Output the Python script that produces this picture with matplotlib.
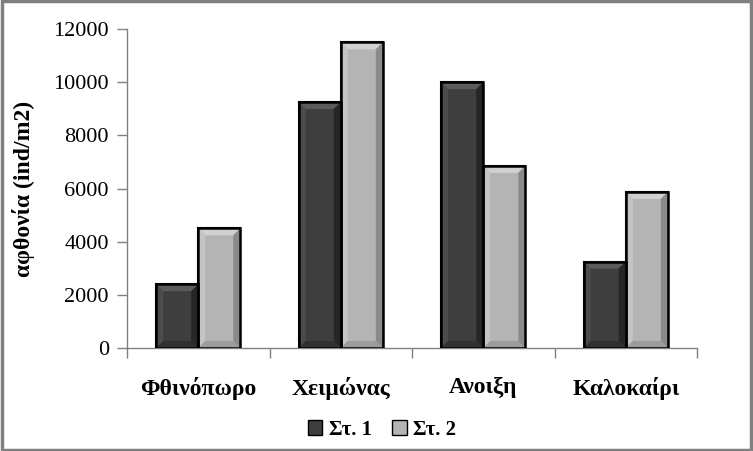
import matplotlib
matplotlib.use("Agg")
import matplotlib.pyplot as plt
import numpy as np
from matplotlib.patches import Polygon, Rectangle, Patch

categories = ["Φθινόπωρο", "Χειμώνας", "Ανοιξη", "Καλοκαίρι"]
series_names = ["Στ. 1", "Στ. 2"]
st1 = [2400, 9250, 10000, 3250]
st2 = [4500, 11500, 6850, 5870]
yticks = [0, 2000, 4000, 6000, 8000, 10000, 12000]

plt.rcParams['font.family'] = ['Liberation Serif', 'DejaVu Serif']

fig = plt.figure(figsize=(7.53, 4.51), dpi=100)
ax = fig.add_axes([127/753, 103/451, 570/753, 319/451])

x = np.arange(len(categories))
w = 0.295
styles = [
    dict(body="#3e3e3e", top="#5c5c5c", left="#4c4c4c", right="#262626", bot="#303030"),
    dict(body="#b4b4b4", top="#d0d0d0", left="#c4c4c4", right="#8a8a8a", bot="#9c9c9c"),
]
ax.set_xlim(-0.5, len(categories) - 0.5)
ax.set_ylim(0, 12000)

p0 = ax.transData.transform((0, 0))
p1 = ax.transData.transform((1, 1000))
pxx = p1[0] - p0[0]
pxy = (p1[1] - p0[1]) / 1000
bx = 7 / pxx
by = 7 / pxy

for i, (vals, st) in enumerate(zip([st1, st2], styles)):
    xs = x + (i - 0.5) * w
    bars = ax.bar(xs, vals, width=w, color=st["body"], edgecolor="black", linewidth=1.5, zorder=2)
    for b in bars:
        x0, y0 = b.get_x(), b.get_y()
        x1, y1 = x0 + b.get_width(), y0 + b.get_height()
        polys = [
            ([(x0, y1), (x1, y1), (x1 - bx, y1 - by), (x0 + bx, y1 - by)], st["top"]),
            ([(x0, y0), (x0 + bx, y0 + by), (x0 + bx, y1 - by), (x0, y1)], st["left"]),
            ([(x1, y0), (x1, y1), (x1 - bx, y1 - by), (x1 - bx, y0 + by)], st["right"]),
            ([(x0, y0), (x1, y0), (x1 - bx, y0 + by), (x0 + bx, y0 + by)], st["bot"]),
        ]
        for pts, c in polys:
            ax.add_patch(Polygon(pts, closed=True, facecolor=c, edgecolor="none", zorder=2.5))
        ax.add_patch(Rectangle((x0, y0), x1 - x0, y1 - y0, facecolor="none",
                               edgecolor="black", linewidth=1.8, zorder=3))

ax.set_yticks(yticks)
ax.set_yticklabels([str(v) for v in yticks], fontsize=16)
ax.set_xticks(x)
ax.set_xticklabels(categories, fontsize=17, fontweight="bold")
ax.set_xticks(np.arange(-0.5, len(categories)), minor=True)
ax.tick_params(axis="x", which="major", length=0, pad=21)
ax.tick_params(axis="x", which="minor", length=7, color="#808080", width=1)
ax.tick_params(axis="y", length=7, color="#808080", width=1, pad=6)
for s in ["top", "right"]:
    ax.spines[s].set_visible(False)
for s in ["left", "bottom"]:
    ax.spines[s].set_color("#808080")
    ax.spines[s].set_linewidth(1)
ax.set_ylabel("αφθονία (ind/m2)", fontsize=17, fontweight="bold")
ax.yaxis.set_label_coords(-(127 - 35) / 570, 0.5)

handles = [Patch(facecolor=styles[0]["body"], edgecolor="black"),
           Patch(facecolor=styles[1]["body"], edgecolor="black")]
fig.legend(handles, series_names, loc="center", bbox_to_anchor=(382/753, 1 - 430/451),
           ncol=2, frameon=False, prop=dict(size=15, weight="bold"),
           handlelength=0.7, handleheight=0.7, handletextpad=0.3, columnspacing=1.0)

fig.patches.append(Rectangle((0.002, 0.003), 0.995, 0.994, transform=fig.transFigure,
                             fill=False, edgecolor="#808080", linewidth=2.5))

fig.savefig("out.png", dpi=100)
